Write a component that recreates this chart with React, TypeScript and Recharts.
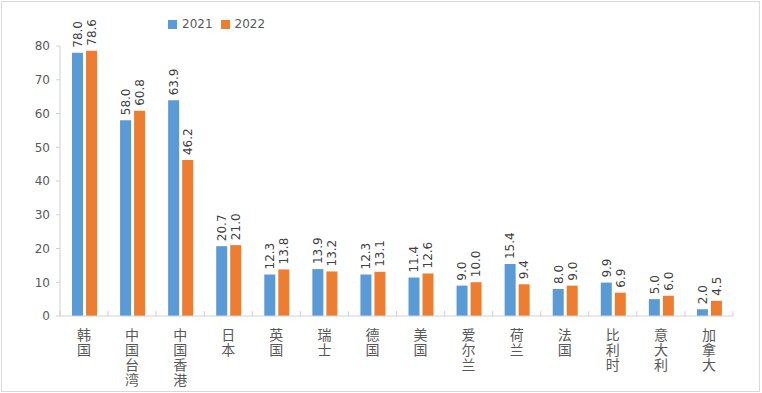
import React from "react";
import { BarChart, Bar, XAxis, YAxis, LabelList } from "recharts";

const regions = [
  "韩国",
  "中国台湾",
  "中国香港",
  "日本",
  "英国",
  "瑞士",
  "德国",
  "美国",
  "爱尔兰",
  "荷兰",
  "法国",
  "比利时",
  "意大利",
  "加拿大",
];
const values2021 = [78.0, 58.0, 63.9, 20.7, 12.3, 13.9, 12.3, 11.4, 9.0, 15.4, 8.0, 9.9, 5.0, 2.0];
const values2022 = [78.6, 60.8, 46.2, 21.0, 13.8, 13.2, 13.1, 12.6, 10.0, 9.4, 9.0, 6.9, 6.0, 4.5];
const yTicks = [0, 10, 20, 30, 40, 50, 60, 70, 80];

const data = regions.map((name, i) => ({
  name,
  y2021: values2021[i],
  y2022: values2022[i],
}));

const W = 762;
const H = 393;
const MARGIN = { top: 46, right: 29, left: 0, bottom: 0 };
const Y_WIDTH = 60;
const BAND = (W - MARGIN.left - MARGIN.right - Y_WIDTH) / regions.length;

const BLUE = "#5B9BD5";
const ORANGE = "#ED7D31";
const AXIS = "#d0d0d0";
const TEXT = "#595959";
const NUM_FONT = "'DejaVu Sans', sans-serif";
const CJK_FONT = "'Noto Sans CJK SC', sans-serif";

// tick y arrives offset by tickSize + tickMargin (6 + 2)
function CategoryTick(props: any) {
  const { x, y, payload, index } = props;
  const axisY = y - 8;
  return (
    <g>
      <line x1={x - BAND / 2} y1={axisY - 5} x2={x - BAND / 2} y2={axisY} stroke={AXIS} />
      {index === regions.length - 1 && (
        <line x1={x + BAND / 2} y1={axisY - 5} x2={x + BAND / 2} y2={axisY} stroke={AXIS} />
      )}
      <text
        x={x}
        y={axisY + 12}
        textAnchor="start"
        fontFamily={CJK_FONT}
        fontSize={14}
        fill={TEXT}
        style={{ writingMode: "vertical-rl", letterSpacing: 1 }}
      >
        {payload.value}
      </text>
    </g>
  );
}

function ValueLabel(props: any) {
  const { x, y, width, value } = props;
  const cx = x + width / 2;
  const cy = y - 5;
  return (
    <text
      x={cx}
      y={cy}
      transform={`rotate(-90 ${cx} ${cy})`}
      dy="0.36em"
      textAnchor="start"
      fontFamily={NUM_FONT}
      fontSize={12}
      fill="#404040"
    >
      {Number(value).toFixed(1)}
    </text>
  );
}

function LegendBox() {
  const item = (color: string, label: string) => (
    <span style={{ display: "inline-flex", alignItems: "center", marginRight: 8 }}>
      <span style={{ width: 9, height: 9, background: color, display: "inline-block", marginRight: 5 }} />
      <span style={{ fontFamily: NUM_FONT, fontSize: 12, color: TEXT }}>{label}</span>
    </span>
  );
  return (
    <div style={{ position: "absolute", top: 17, left: 168, display: "flex", lineHeight: "14px" }}>
      {item(BLUE, "2021")}
      {item(ORANGE, "2022")}
    </div>
  );
}

export default function App() {
  return (
    <div style={{ position: "absolute", left: 0, top: 0, width: W, height: H, background: "#fff" }}>
      <div
        style={{
          position: "absolute",
          left: 1,
          top: 1,
          width: W - 3,
          height: H - 2,
          boxSizing: "border-box",
          border: "1px solid #d9d9d9",
        }}
      />
      <BarChart width={W} height={H} data={data} margin={MARGIN} barSize={11} barGap={3}>
        <XAxis
          dataKey="name"
          interval={0}
          height={77}
          stroke={AXIS}
          tickLine={false}
          tick={<CategoryTick />}
        />
        <YAxis
          domain={[0, 80]}
          ticks={yTicks}
          width={Y_WIDTH}
          stroke={AXIS}
          tickSize={4}
          tickMargin={6}
          tick={{ fontSize: 12, fill: TEXT, fontFamily: NUM_FONT }}
          allowDataOverflow
        />
        <Bar dataKey="y2021" name="2021" fill={BLUE} isAnimationActive={false}>
          <LabelList dataKey="y2021" content={<ValueLabel />} />
        </Bar>
        <Bar dataKey="y2022" name="2022" fill={ORANGE} isAnimationActive={false}>
          <LabelList dataKey="y2022" content={<ValueLabel />} />
        </Bar>
      </BarChart>
      <LegendBox />
    </div>
  );
}
